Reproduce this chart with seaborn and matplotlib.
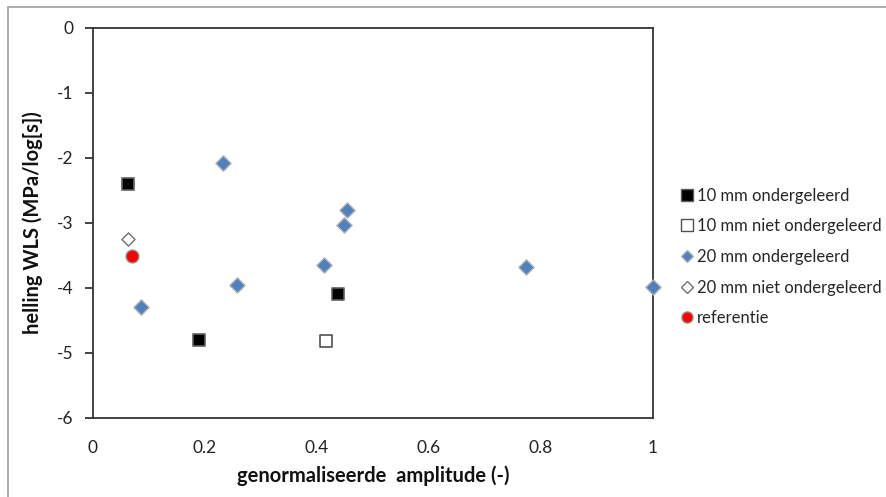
import matplotlib
matplotlib.use("Agg")
import matplotlib.pyplot as plt
import seaborn as sns
import pandas as pd
from matplotlib.patches import Rectangle
from matplotlib.lines import Line2D

sns.set_style("white")
plt.rcParams['font.family'] = ['Lato', 'DejaVu Sans']

# Data
x_10_onder = [0.063, 0.190, 0.438]
y_10_onder = [-2.40, -4.80, -4.10]
x_10_niet = [0.416]
y_10_niet = [-4.81]
x_20_onder = [0.232, 0.454, 0.449, 0.413, 0.258, 0.085, 0.774, 1.0]
y_20_onder = [-2.07, -2.80, -3.03, -3.64, -3.96, -4.30, -3.67, -3.98]
x_20_niet = [0.062]
y_20_niet = [-3.24]
x_ref = [0.070]
y_ref = [-3.51]

labels = ["10 mm ondergeleerd", "10 mm niet ondergeleerd", "20 mm ondergeleerd",
          "20 mm niet ondergeleerd", "referentie"]
xs = [x_10_onder, x_10_niet, x_20_onder, x_20_niet, x_ref]
ys = [y_10_onder, y_10_niet, y_20_onder, y_20_niet, y_ref]

styles = [
    dict(marker="s", facecolor="black", edgecolor="#606060", size=85, lw=1.2),
    dict(marker="s", facecolor="white", edgecolor="#505050", size=85, lw=1.2),
    dict(marker="D", facecolor="#4F81BD", edgecolor="#B0B0B0", size=60, lw=1.0),
    dict(marker="D", facecolor="white", edgecolor="#707070", size=45, lw=1.0),
    dict(marker="o", facecolor="#FF0000", edgecolor="#909090", size=85, lw=1.0),
]

frames = []
for lab, xv, yv in zip(labels, xs, ys):
    frames.append(pd.DataFrame({"x": xv, "y": yv, "groep": lab}))
df = pd.concat(frames, ignore_index=True)

fig = plt.figure(figsize=(8.87, 4.97), dpi=100)
ax = fig.add_axes([93/887, 1-418/497, 560/887, 390/497])

for lab, st in zip(labels, styles):
    sub = df[df["groep"] == lab]
    sns.scatterplot(data=sub, x="x", y="y", ax=ax, marker=st["marker"],
                    color=st["facecolor"], edgecolor=st["edgecolor"],
                    s=st["size"], linewidth=st["lw"], zorder=3, clip_on=False)

ax.set_xlim(0, 1)
ax.set_ylim(-6, 0)
ax.set_xticks([0, 0.2, 0.4, 0.6, 0.8, 1])
ax.set_xticklabels(["0", "0.2", "0.4", "0.6", "0.8", "1"])
ax.set_yticks([0, -1, -2, -3, -4, -5, -6])
ax.set_yticklabels(["0", "-1", "-2", "-3", "-4", "-5", "-6"])
for sp in ax.spines.values():
    sp.set_visible(True)
    sp.set_color("#333333")
    sp.set_linewidth(1.3)
ax.tick_params(axis="y", direction="out", length=6, width=1.2, color="#222222",
               left=True, labelsize=12.5, pad=8, labelcolor="#222222")
ax.tick_params(axis="x", bottom=False, labelsize=12.5, pad=12, labelcolor="#222222")
ax.set_xlabel("genormaliseerde  amplitude (-)", fontsize=14.5, fontweight="bold",
              labelpad=7, color="#111111")
ax.set_ylabel("helling WLS (MPa/log[s])", fontsize=14.5, fontweight="bold",
              labelpad=10, color="#111111")

handles = []
for st in styles:
    ms = {"s": 8, "D": 6.5, "o": 8}[st["marker"]]
    if st["marker"] == "D" and st["facecolor"] == "white":
        ms = 6
    handles.append(Line2D([], [], linestyle="none", marker=st["marker"],
                          markerfacecolor=st["facecolor"],
                          markeredgecolor=st["edgecolor"], markersize=ms,
                          markeredgewidth=1.0))
fig.legend(handles, labels, loc="upper left", bbox_to_anchor=(672/887, 1-181/497),
           frameon=False, fontsize=12, handletextpad=0.1, handlelength=1.0,
           labelspacing=0.88, borderaxespad=0)

fig.patches.append(Rectangle((8/887, -0.1), 1.2, 1 - 7/497 + 0.1,
                             transform=fig.transFigure, fill=False,
                             edgecolor="#A0A0A0", linewidth=1.2))

fig.savefig("out.png", dpi=100)
